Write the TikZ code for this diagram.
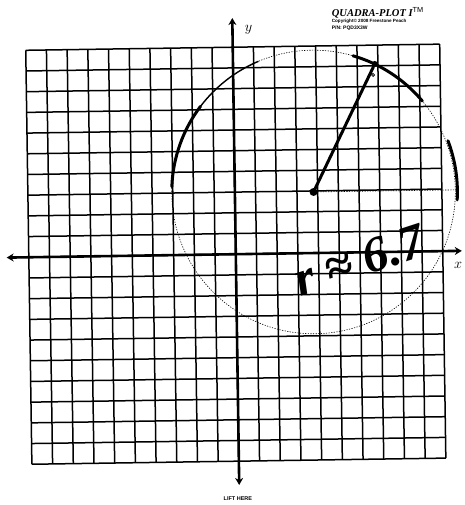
\documentclass[tikz,border=0pt]{standalone}
\usepackage{fontspec}
\newfontfamily\labelfont{Liberation Sans}
\newfontfamily\handfont{Liberation Serif}
\usetikzlibrary{arrows.meta,positioning}
\tikzset{
	gridline/.style={line width=1.5pt},
	axis/.style={line width=2.6pt, {Stealth[length=7pt,width=8pt]}-{Stealth[length=7pt,width=8pt]}},
	pencil/.style={line width=0.6pt, dash pattern=on 1.2pt off 1.4pt},
	ink/.style={line width=3pt, line cap=round},
	dot/.style={circle, fill, inner sep=0pt, minimum size=#1},
}
\begin{document}
\begin{tikzpicture}[x=20.7pt, y=20.7pt]
	\useasboundingbox (-11.391,-12.116) rectangle (11.072,12.280);
\begin{scope}[rotate=0.85]
	\foreach \i in {-10,...,10} {
		\draw[gridline] (\i,-10) -- (\i,10);
		\draw[gridline] (-10,\i) -- (10,\i);
	}
	\coordinate (xl) at (-11.07,0);
	\coordinate (xr) at (10.92,0);
	\coordinate (yt) at (0,11.41);
	\coordinate (yb) at (0,-11.15);
	\draw[axis] (xl) -- (xr);
	\draw[axis] (yb) -- (yt);

	\node[dot=8pt] (c) at (3.8,2.95) {};
	\node[dot=6pt] (p) at (6.85,9.09) {};
	\node[circle, draw, inner sep=0pt, minimum size=3pt, line width=0.8pt] (q) at (6.76,8.56) {};
	\coordinate (e) at ([shift={(0:6.85)}]c.center);
	\draw[pencil] (c.center) circle (6.85);
	\draw[pencil] (c) -- (e);
	\draw[ink] ([shift={(177:6.85)}]c.center) arc (177:142:6.85);
	\draw[line width=1.4pt] ([shift={(142:6.85)}]c.center) arc (142:112:6.85);
	\draw[ink] ([shift={(73:6.85)}]c.center) arc (73:39:6.85);
	\draw[ink] ([shift={(20:6.95)}]c.center) arc (20:-4:6.95);
	\draw[ink] (c) -- (p);
\end{scope}
	\node (ylab) at (0.62,10.83) {\Large$y$};
	\node (xlab) at (10.74,-0.52) {\Large$x$};
	\node (lift) at (0.1,-11.8) {\labelfont\bfseries\fontsize{5.5}{6}\selectfont LIFT HERE};
	\node[anchor=west, inner sep=0pt] (t1) at (4.63,11.68) {\handfont\fontsize{10.5}{12}\selectfont\bfseries\itshape QUADRA-PLOT I\textsuperscript{\normalfont\labelfont TM}};
	\node[below=1pt of t1.south west, anchor=north west, inner sep=0pt] (t2) {\labelfont\bfseries\fontsize{4.6}{5}\selectfont Copyright\textcopyright{} 2008 Freestone Peach};
	\node[below=1.5pt of t2.south west, anchor=north west, inner sep=0pt] (t3) {\labelfont\bfseries\fontsize{5}{6}\selectfont P/N: PQD3X3W};
	\node[rotate=18, inner sep=1pt] (r) at (5.95,-0.3) {\handfont\bfseries\itshape\fontsize{50}{54}\selectfont r ≈ 6.7};
\end{tikzpicture}
\end{document}
